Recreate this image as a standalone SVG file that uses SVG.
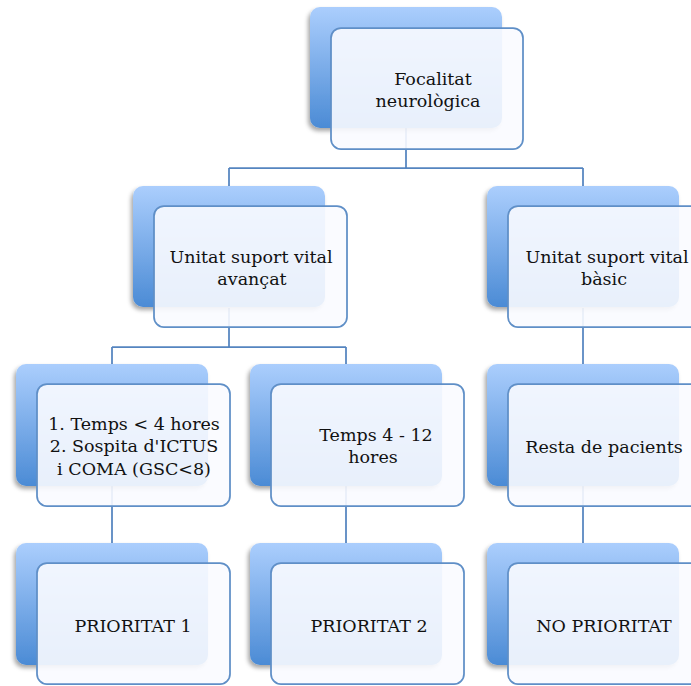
<svg xmlns="http://www.w3.org/2000/svg" width="691" height="686" viewBox="0 0 691 686">
<defs>
<linearGradient id="bg" x1="0" y1="0" x2="0" y2="1">
<stop offset="0" stop-color="#abcefd"/>
<stop offset="1" stop-color="#4b8bd5"/>
</linearGradient>
<filter id="sh" x="-20%" y="-20%" width="140%" height="140%">
<feDropShadow dx="-2" dy="3" stdDeviation="2" flood-color="#000" flood-opacity="0.35"/>
</filter>
<style>
.back{fill:url(#bg);filter:url(#sh)}
.front{fill:#f9fbff;fill-opacity:0.9;stroke:#5f8fc7;stroke-width:1.75}
.conn{fill:none;stroke:#5585c0;stroke-width:1.75}
text{font-family:"DejaVu Serif","Liberation Serif",serif;font-size:17.5px;fill:#111;text-anchor:middle}
</style>
</defs>
<rect width="691" height="686" fill="#fff"/>
<g id="connectors">
<path class="conn" d="M406 128V168M229 168H583M229 168V186M583 168V186"/>
<path class="conn" d="M229 308V347M112 347H346M112 347V364M346 347V364"/>
<path class="conn" d="M583 308V364"/>
<path class="conn" d="M112 486V543M346 486V543M583 486V543"/>
</g>
<g id="n-focalitat">
<rect class="back" x="310" y="7" width="192" height="121" rx="10"/>
<rect class="front" x="331" y="28" width="192" height="121" rx="10"/>
<text x="433" y="85">Focalitat</text>
<text x="428" y="107">neurològica</text>
</g>
<g id="n-avancat">
<rect class="back" x="133" y="186" width="192" height="121" rx="10"/>
<rect class="front" x="154" y="206" width="193" height="121" rx="10"/>
<text x="251" y="263">Unitat suport vital</text>
<text x="252" y="285">avançat</text>
</g>
<g id="n-basic">
<rect class="back" x="487" y="186" width="192" height="121" rx="10"/>
<rect class="front" x="508" y="206" width="193" height="121" rx="10"/>
<text x="607" y="263">Unitat suport vital</text>
<text x="604" y="285">bàsic</text>
</g>
<g id="n-temps4">
<rect class="back" x="16" y="364" width="192" height="122" rx="10"/>
<rect class="front" x="37" y="384" width="193" height="122" rx="10"/>
<text x="134" y="430">1. Temps &lt; 4 hores</text>
<text x="134" y="452">2. Sospita d'ICTUS</text>
<text x="134" y="475">i COMA (GSC&lt;8)</text>
</g>
<g id="n-temps12">
<rect class="back" x="250" y="364" width="192" height="122" rx="10"/>
<rect class="front" x="271" y="384" width="193" height="122" rx="10"/>
<text x="376" y="441">Temps 4 - 12</text>
<text x="373" y="463">hores</text>
</g>
<g id="n-resta">
<rect class="back" x="487" y="364" width="192" height="122" rx="10"/>
<rect class="front" x="508" y="384" width="193" height="122" rx="10"/>
<text x="604" y="453">Resta de pacients</text>
</g>
<g id="n-p1">
<rect class="back" x="16" y="543" width="192" height="122" rx="10"/>
<rect class="front" x="37" y="563" width="193" height="121" rx="10"/>
<text x="133" y="632">PRIORITAT 1</text>
</g>
<g id="n-p2">
<rect class="back" x="250" y="543" width="192" height="122" rx="10"/>
<rect class="front" x="271" y="563" width="193" height="121" rx="10"/>
<text x="369" y="632">PRIORITAT 2</text>
</g>
<g id="n-nop">
<rect class="back" x="487" y="543" width="192" height="122" rx="10"/>
<rect class="front" x="508" y="563" width="193" height="121" rx="10"/>
<text x="604" y="632">NO PRIORITAT</text>
</g>
</svg>
